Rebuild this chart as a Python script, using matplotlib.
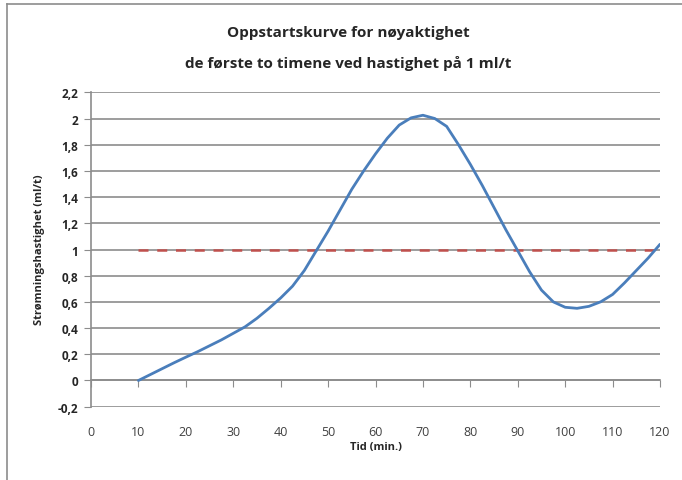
import matplotlib.pyplot as plt
from matplotlib.lines import Line2D

plt.rcParams['font.family'] = ['Open Sans', 'DejaVu Sans']

# flow rate (minutes, ml/h)
tid = [10, 12.5, 15, 17.5, 20, 22.5, 25, 27.5, 30, 32.5, 35, 37.5, 40, 42.5,
       45, 47.5, 50, 52.5, 55, 57.5, 60, 62.5, 65, 67.5, 70, 72.5, 75, 77.5,
       80, 82.5, 85, 87.5, 90, 92.5, 95, 97.5, 100, 102.5, 105, 107.5, 110,
       112.5, 115, 117.5, 120]
hastighet = [0.0, 0.045, 0.09, 0.135, 0.178, 0.22, 0.265, 0.31, 0.36, 0.41,
             0.475, 0.55, 0.63, 0.72, 0.84, 0.99, 1.14, 1.30, 1.46, 1.60, 1.73,
             1.85, 1.95, 2.005, 2.025, 2.0, 1.94, 1.80, 1.65, 1.49, 1.32,
             1.15, 0.99, 0.83, 0.69, 0.60, 0.559, 0.551, 0.566, 0.601, 0.657,
             0.745, 0.84, 0.935, 1.04]
mal_tid = [10, 120]
mal = [1, 1]

x_ticks = list(range(0, 121, 10))
y_ticks = [-0.2, 0, 0.2, 0.4, 0.6, 0.8, 1, 1.2, 1.4, 1.6, 1.8, 2, 2.2]
y_labels = ['-0,2', '0', '0,2', '0,4', '0,6', '0,8', '1', '1,2', '1,4',
            '1,6', '1,8', '2', '2,2']

fig = plt.figure(figsize=(6.82, 4.81), dpi=100)
ax = fig.add_axes([0.1334, 0.1524, 0.8344, 0.6536])

grid_c = '#8c8c8c'
for yv in y_ticks:
    ax.axhline(yv, color=grid_c, lw=1.2, zorder=1)

ax.plot(mal_tid, mal, color='#c0504d', lw=1.8, dashes=(4, 3.5), zorder=2)
ax.plot(tid, hastighet, color='#4a7ebb', lw=2.0, zorder=3,
        solid_joinstyle='round', solid_capstyle='round')

ax.set_xlim(0, 120)
ax.set_ylim(-0.2, 2.2)
ax.set_xticks(x_ticks)
ax.set_xticklabels([str(v) for v in x_ticks])
ax.set_yticks(y_ticks)
ax.set_yticklabels(y_labels, fontweight='bold')

for s in ['top', 'right']:
    ax.spines[s].set_visible(False)
ax.spines['left'].set_color(grid_c)
ax.spines['left'].set_linewidth(1.2)
ax.spines['bottom'].set_position(('data', 0))
ax.spines['bottom'].set_color(grid_c)
ax.spines['bottom'].set_linewidth(1.2)

ax.tick_params(axis='x', direction='out', length=5, color=grid_c,
               pad=27, labelsize=9, labelcolor='#404040')
ax.tick_params(axis='y', direction='out', length=5, color=grid_c,
               pad=4, labelsize=8.5, labelcolor='#262626')

fig.text(0.511, 0.931, 'Oppstartskurve for nøyaktighet', ha='center',
         va='center', fontsize=11, fontweight='bold', color='#262626')
fig.text(0.511, 0.869, 'de første to timene ved hastighet på 1 ml/t',
         ha='center', va='center', fontsize=11, fontweight='bold',
         color='#262626')
fig.text(0.551, 0.069, 'Tid (min.)', ha='center', va='center',
         fontsize=8, fontweight='bold', color='#262626')
fig.text(0.058, 0.48, 'Strømningshastighet (ml/t)', ha='center',
         va='center', rotation=90, fontsize=8, fontweight='bold',
         color='#262626')

# chart frame
fig.add_artist(Line2D([0.0105, 0.0105], [0.0, 0.99], transform=fig.transFigure,
                      color='#8c8c8c', lw=1.2))
fig.add_artist(Line2D([0.0105, 1.0], [0.99, 0.99], transform=fig.transFigure,
                      color='#8c8c8c', lw=1.2))

fig.savefig('out.png', dpi=100)
